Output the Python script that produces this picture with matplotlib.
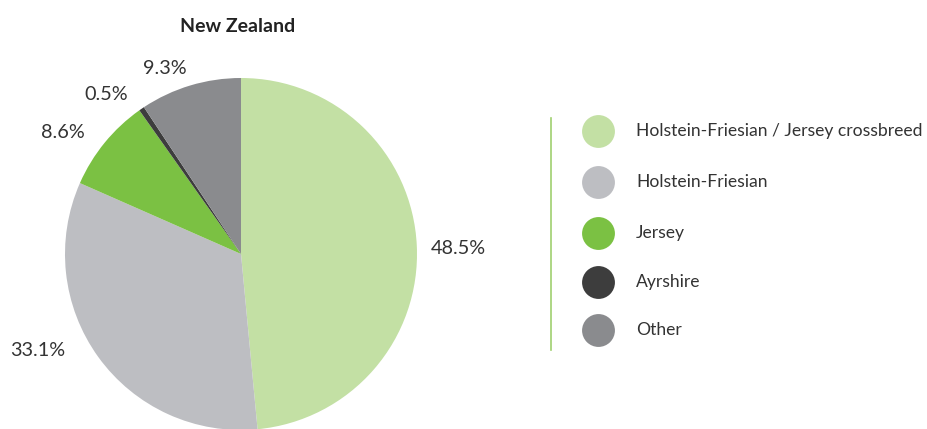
import matplotlib.pyplot as plt

# breed shares, New Zealand dairy herd
breeds = ['Holstein-Friesian / Jersey crossbreed', 'Holstein-Friesian', 'Jersey', 'Ayrshire', 'Other']
shares = [48.5, 33.1, 8.6, 0.5, 9.3]
colors = ['#c3e0a4', '#bdbec2', '#7bc143', '#3d3d3d', '#8a8b8e']
pct_labels = ['48.5%', '33.1%', '8.6%', '0.5%', '9.3%']

# where each percent label sits (pixels, origin top-left)
label_pos = [(458, 249), (38, 350), (63, 133), (106, 95), (165, 68)]

plt.rcParams['font.family'] = ['Lato', 'DejaVu Sans']

W, H = 928, 429
fig = plt.figure(figsize=(W / 100, H / 100), dpi=100)
ax = fig.add_axes([0, 0, 1, 1])

cx, cy, r = 241, 254, 176
ax.pie(shares, colors=colors, startangle=90, counterclock=False,
       center=(cx, H - cy), radius=r, frame=True,
       wedgeprops=dict(linewidth=0))

for txt, (x, y) in zip(pct_labels, label_pos):
    ax.text(x, H - y, txt, ha='center', va='center', fontsize=14.3, color='#333333')

ax.text(238, H - 26, 'New Zealand', ha='center', va='center', fontsize=14,
        fontweight='bold', color='#222222')

# legend, drawn by hand
ax.plot([551, 551], [H - 118, H - 350], color='#9fd06f', lw=1.2)
leg_y = [131, 182, 233, 282, 330]
for name, c, y in zip(breeds, colors, leg_y):
    ax.scatter([598], [H - y], s=560, color=c, linewidths=0)
    ax.text(636, H - y, name, ha='left', va='center', fontsize=12.6, color='#333333')

ax.set_xlim(0, W)
ax.set_ylim(0, H)
ax.set_aspect('equal')
ax.axis('off')

fig.savefig('out.png', dpi=100)
